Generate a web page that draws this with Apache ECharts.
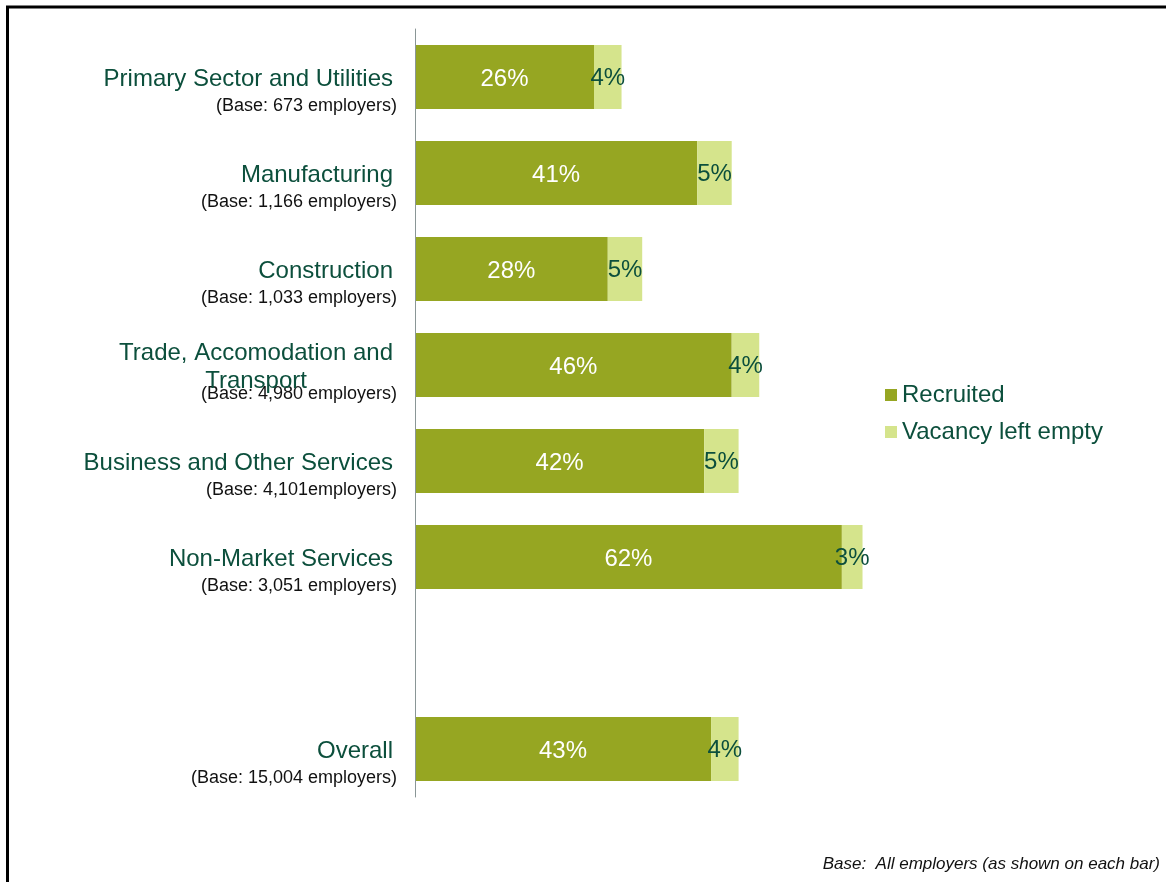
<!DOCTYPE html>
<html>
<head>
<meta charset="utf-8">
<script src="https://cdn.jsdelivr.net/npm/echarts@6/dist/echarts.min.js"></script>
<style>
  html, body { margin: 0; padding: 0; background: #ffffff; }
  #chart { width: 1166px; height: 882px; }
</style>
</head>
<body>
<div id="chart"></div>
<script>
// Sector names (explicit line break where the label wraps) and their base sizes
const categories = [
  'Primary Sector and Utilities',
  'Manufacturing',
  'Construction',
  'Trade, Accomodation and\nTransport',
  'Business and Other Services',
  'Non-Market Services',
  '',
  'Overall'
];
const bases = [
  '(Base: 673 employers)',
  '(Base: 1,166 employers)',
  '(Base: 1,033 employers)',
  '(Base: 4,980 employers)',
  '(Base: 4,101employers)',
  '(Base: 3,051 employers)',
  '',
  '(Base: 15,004 employers)'
];
// Percentages of employers
const recruited    = [26, 41, 28, 46, 42, 62, null, 43];
const vacancyEmpty = [4, 5, 5, 4, 5, 3, null, 4];
const seriesNames  = ['Recruited', 'Vacancy left empty'];
const footnote     = 'Base:  All employers (as shown on each bar)';

const FONT = "'Liberation Sans', Arial, Helvetica, sans-serif";
const TEXT_GREEN = '#0c4f3c';
const BAR_DARK = '#96a622';
const BAR_LIGHT = '#d5e48c';

const chart = echarts.init(document.getElementById('chart'), null, { renderer: 'canvas' });

const option = {
  animation: false,
  backgroundColor: '#ffffff',
  textStyle: { fontFamily: FONT },
  title: {
    text: footnote,
    right: 6,
    top: 855,
    padding: 0,
    textStyle: {
      fontFamily: FONT,
      fontSize: 17,
      fontStyle: 'italic',
      fontWeight: 'normal',
      color: '#111111',
      lineHeight: 18
    }
  },
  legend: {
    orient: 'vertical',
    left: 885,
    top: 382,
    padding: 0,
    icon: 'rect',
    itemWidth: 12,
    itemHeight: 12,
    itemGap: 11,
    selectedMode: false,
    data: seriesNames,
    textStyle: { fontFamily: FONT, fontSize: 24, color: TEXT_GREEN, lineHeight: 26 }
  },
  grid: { left: 415, top: 29, width: 688.5, height: 768 },
  xAxis: { type: 'value', min: 0, max: 100, show: false },
  yAxis: [
    {
      type: 'category',
      data: categories,
      inverse: true,
      z: 5,
      axisLine: { show: true, lineStyle: { color: '#8a9696', width: 1 } },
      axisTick: { show: false },
      splitLine: { show: false },
      axisLabel: {
        interval: 0,
        margin: 22,
        align: 'right',
        padding: [4, 0, 0, 0],
        formatter: function (v) {
          if (!v) return '';
          return v.split('\n').map(function (l) { return '{n|' + l + '}'; }).join('\n');
        },
        rich: {
          n: { fontFamily: FONT, fontSize: 24, lineHeight: 28, color: TEXT_GREEN, align: 'center' }
        }
      }
    },
    {
      // second category axis carries the base-size line under each sector name
      type: 'category',
      data: bases,
      inverse: true,
      position: 'left',
      offset: 0,
      axisLine: { show: false },
      axisTick: { show: false },
      splitLine: { show: false },
      axisLabel: {
        interval: 0,
        margin: 18,
        align: 'right',
        verticalAlign: 'top',
        lineHeight: 59,
        fontFamily: FONT,
        fontSize: 18,
        color: '#111111'
      }
    }
  ],
  series: [
    {
      name: seriesNames[0],
      type: 'bar',
      stack: 'share',
      barWidth: 64,
      data: recruited,
      itemStyle: { color: BAR_DARK },
      label: {
        show: true,
        position: 'inside',
        offset: [0, 2],
        formatter: '{c}%',
        color: '#ffffff',
        fontFamily: FONT,
        fontSize: 24
      }
    },
    {
      name: seriesNames[1],
      type: 'bar',
      stack: 'share',
      barWidth: 64,
      data: vacancyEmpty,
      itemStyle: { color: BAR_LIGHT },
      label: {
        show: true,
        position: 'inside',
        offset: [0, 1],
        formatter: '{c}%',
        color: TEXT_GREEN,
        fontFamily: FONT,
        fontSize: 24
      }
    }
  ],
  graphic: [
    {
      type: 'polyline',
      silent: true,
      shape: { points: [[7.5, 882], [7.5, 7], [1166, 7]] },
      style: { stroke: '#000000', lineWidth: 3, fill: null }
    }
  ]
};

chart.setOption(option);
</script>
</body>
</html>
